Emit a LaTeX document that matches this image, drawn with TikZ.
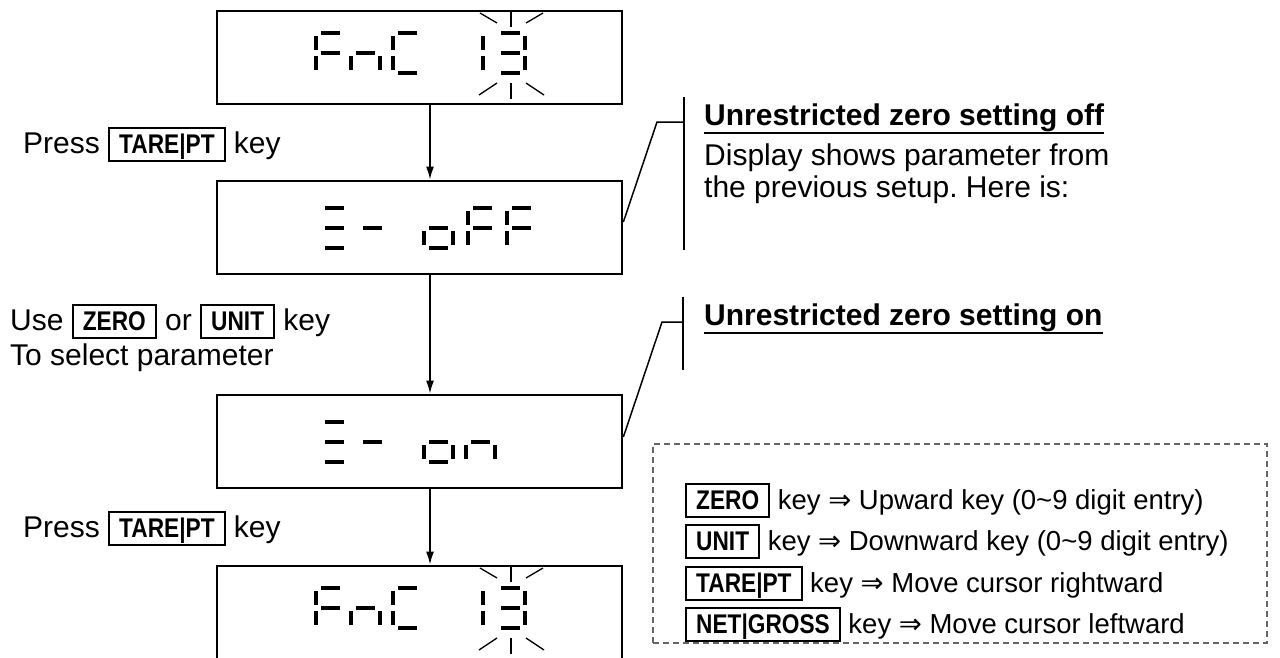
\documentclass[tikz,border=0pt]{standalone}
\usepackage{fontspec}
\setmainfont{Liberation Sans}
\newfontfamily\keyfont[FakeStretch=0.84]{Liberation Sans Bold}
\newfontfamily\arrowfont{DejaVu Sans}
\usetikzlibrary{arrows.meta}
\frenchspacing

% framed key legend, e.g. TARE|PT
\newcommand\keycap[1]{{\setlength\fboxrule{2pt}\setlength\fboxsep{0pt}%
  \fbox{\rule[-7pt]{0pt}{31pt}\hspace{9pt}{\keyfont\fontsize{27}{32}\selectfont #1}\hspace{9pt}}}}

% seven-segment pieces, relative to the top-left of a digit cell (y grows downward)
\newcommand\lcda{(5,-2) rectangle (24,2)}
\newcommand\lcdg{(5,18) rectangle (24,22)}
\newcommand\lcdd{(5,38) rectangle (24,42)}
\newcommand\lcdf{(-2,3) rectangle (2,17)}
\newcommand\lcde{(-2,23) rectangle (2,37)}
\newcommand\lcdb{(27,3) rectangle (31,17)}
\newcommand\lcdc{(27,23) rectangle (31,37)}
\newcommand\lcddigit[3]{\foreach \s in {#3}{\fill[shift={(#1,#2)}] \csname lcd\s\endcsname;}}

% blinking marks around a digit
\newcommand\blink[2]{%
  \draw[ray] (#1,{#2-21}) -- (#1,{#2-6});
  \draw[ray] ({#1-31},{#2-20}) -- ({#1-14},{#2-10});
  \draw[ray] ({#1+32},{#2-20}) -- ({#1+15},{#2-10});
  \draw[ray] (#1,{#2+50}) -- (#1,{#2+66});
  \draw[ray] ({#1-14},{#2+50}) -- ({#1-32},{#2+62});
  \draw[ray] ({#1+15},{#2+50}) -- ({#1+33},{#2+62});
}

\tikzset{
  dispbox/.style={draw, line width=2.7pt, minimum width=405pt, minimum height=93pt, inner sep=0pt},
  flowarrow/.style={line width=1.8pt, -{Latex[length=13pt,width=8pt]}},
  ray/.style={line width=1.3pt},
  callout/.style={line width=1.5pt},
  underline/.style={line width=2.8pt},
  bodytext/.style={anchor=base west, inner sep=0pt, font=\fontsize{30}{35}\selectfont},
  headtext/.style={anchor=base west, inner sep=0pt, font=\bfseries\fontsize{30}{35}\selectfont},
  legtext/.style={anchor=base west, inner sep=0pt, font=\fontsize{27.5}{32}\selectfont},
  legframe/.style={draw=black!60, line width=1.5pt, dash pattern=on 6pt off 4pt,
    minimum width=614pt, minimum height=199pt, inner sep=0pt},
}

\begin{document}
\begin{tikzpicture}[x=1pt, y=-1pt]
\useasboundingbox (0,0) rectangle (1280,657);
\fill[white] (0,0) rectangle (1280,657);

% display windows
\node[dispbox] (d1) at (419.5,57.5) {};
\node[dispbox] (d2) at (419.5,227.5) {};
\node[dispbox] (d3) at (419.5,441.5) {};
\node[dispbox] (d4) at (419.5,612.5) {};

% FnC 13
\lcddigit{316}{33}{a,f,e,g}
\lcddigit{351}{33}{g,e,c}
\lcddigit{393}{33}{a,f,e,d}
\lcddigit{454}{33}{b,c}
\lcddigit{496}{33}{a,b,g,c,d}
\blink{511}{33}

% Z- oFF
\lcddigit{320}{208}{a,g,d}
\lcddigit{358}{208}{g}
\lcddigit{424}{208}{g,c,d,e}
\lcddigit{468}{208}{a,f,e,g}
\lcddigit{507}{208}{a,f,e,g}

% Z- on
\lcddigit{320}{422}{a,g,d}
\lcddigit{358}{422}{g}
\lcddigit{424}{422}{g,c,d,e}
\lcddigit{466}{422}{g,e,c}

% FnC 13
\lcddigit{316}{588}{a,f,e,g}
\lcddigit{351}{588}{g,e,c}
\lcddigit{393}{588}{a,f,e,d}
\lcddigit{454}{588}{b,c}
\lcddigit{496}{588}{a,b,g,c,d}
\blink{511}{588}

% flow
\draw[flowarrow] ([xshift=10.5pt]d1.south) -- ([xshift=10.5pt]d2.north);
\draw[flowarrow] ([xshift=10.5pt]d2.south) -- ([xshift=10.5pt]d3.north);
\draw[flowarrow] ([xshift=10.5pt]d3.south) -- ([xshift=10.5pt]d4.north);

% step labels
\node[bodytext] (s1) at (23,153) {Press \keycap{TARE|PT} key};
\node[bodytext] (s2) at (10,330) {Use \keycap{ZERO} or \keycap{UNIT} key};
\node[bodytext] (s3) at (10,365) {To select parameter};
\node[bodytext] (s4) at (23,537) {Press \keycap{TARE|PT} key};

% notes with leader lines
\coordinate (k1) at (657,122);
\coordinate (b1) at (684,122);
\coordinate (b1t) at (684,97);
\coordinate (b1b) at (684,250);
\draw[callout] ([yshift=5.5pt]d2.east) -- (k1) -- (b1);
\draw[callout] (b1t) -- (b1b);
\node[headtext] (h1) at (704,125) {Unrestricted zero setting off};
\draw[underline] ([yshift=-8pt]h1.base west) -- ([yshift=-8pt]h1.base east);
\node[bodytext] (n1) at (704,165) {Display shows parameter from};
\node[bodytext] (n2) at (704,197) {the previous setup. Here is:};

\coordinate (k2) at (662,322);
\coordinate (b2) at (683,322);
\coordinate (b2t) at (683,297);
\coordinate (b2b) at (683,370);
\draw[callout] ([yshift=4.5pt]d3.east) -- (k2) -- (b2);
\draw[callout] (b2t) -- (b2b);
\node[headtext] (h2) at (704,325) {Unrestricted zero setting on};
\draw[underline] ([yshift=-8pt]h2.base west) -- ([yshift=-8pt]h2.base east);

% key legend
\node[legframe] (leg) at (960,543.5) {};
\node[legtext] (l1) at (685,509) {\keycap{ZERO} key {\arrowfont ⇒} Upward key (0\textasciitilde9 digit entry)};
\node[legtext] (l2) at (685,550) {\keycap{UNIT} key {\arrowfont ⇒} Downward key (0\textasciitilde9 digit entry)};
\node[legtext] (l3) at (685,592) {\keycap{TARE|PT} key {\arrowfont ⇒} Move cursor rightward};
\node[legtext] (l4) at (685,633) {\keycap{NET|GROSS} key {\arrowfont ⇒} Move cursor leftward};
\end{tikzpicture}
\end{document}
